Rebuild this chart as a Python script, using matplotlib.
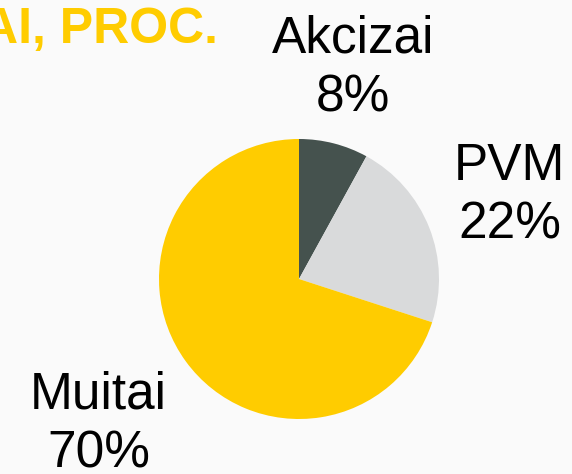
import numpy as np
import matplotlib.pyplot as plt

plt.rcParams['font.family'] = ['Liberation Sans', 'DejaVu Sans']

labels = ["Akcizai", "PVM", "Muitai"]
values = [8, 22, 70]
colors = ["#45524e", "#d9dadb", "#ffcc00"]
label_dist = [1.55, 1.62, 1.77]

W, H = 572, 474
fig = plt.figure(figsize=(W / 100, H / 100), dpi=100, facecolor="#fafafa")

# pie centre at (299, 279) px from top, radius 140 px
cx, cy, r = 299, 279, 140
ax = fig.add_axes([(cx - r) / W, (H - cy - r) / H, 2 * r / W, 2 * r / H])
ax.set_facecolor("#fafafa")

wedges, _ = ax.pie(values, colors=colors, startangle=90, counterclock=False,
                   radius=1, wedgeprops=dict(linewidth=0))
ax.set_xlim(-1, 1)
ax.set_ylim(-1, 1)
ax.set_aspect("equal")
ax.axis("off")

for w, lab, v, d in zip(wedges, labels, values, label_dist):
    ang = np.deg2rad((w.theta1 + w.theta2) / 2)
    ax.text(d * np.cos(ang), d * np.sin(ang), f"{lab}\n{v}%", ha="center", va="center",
            fontsize=37, color="black", linespacing=1.26, clip_on=False)

# title is cut off at the left edge in the original
fig.text(218 / W, 1 - 30 / H, "AI, PROC.", ha="right", va="center", fontsize=36,
         fontweight="bold", color="#ffcc00")

fig.savefig("out.png", dpi=100, facecolor=fig.get_facecolor())
